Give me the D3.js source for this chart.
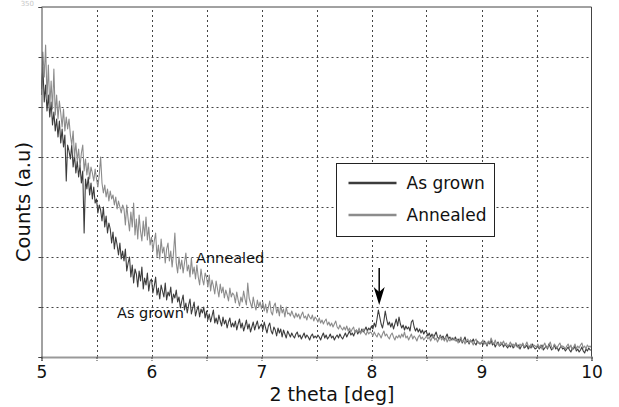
<!DOCTYPE html>
<html>
<head>
<meta charset="utf-8">
<script src="https://cdn.jsdelivr.net/npm/d3@7"></script>
<style>
  body { margin: 0; background: #fff; }
  text { font-family: "DejaVu Sans", sans-serif; }
</style>
</head>
<body>
<div id="chart"></div>
<script>
// 2 theta grid: 5.0000 .. 10.0000, step 0.0125
const thetaStart = 5;
const thetaStep = 0.0125;

// counts (a.u), 20 points per 0.25 deg
const asGrown = [
  268, 290, 255, 272, 246, 262, 240, 255, 232, 245, 226, 238, 220, 236, 214, 228, 210, 222, 176, 212,
  206, 198, 212, 190, 202, 184, 196, 180, 192, 174, 186, 124, 178, 168, 180, 162, 174, 158, 170, 154,
  158, 144, 152, 147, 136, 150, 130, 141, 124, 134, 128, 114, 125, 108, 120, 112, 102, 114, 98, 106,
  96, 108, 86, 94, 100, 80, 92, 74, 88, 83, 70, 86, 76, 90, 68, 79, 72, 84, 66, 76,
  78, 64, 71, 80, 62, 69, 58, 72, 66, 60, 74, 57, 65, 61, 70, 54, 63, 59, 67, 55,
  60, 49, 56, 62, 47, 54, 44, 52, 58, 43, 49, 55, 41, 47, 51, 40, 48, 44, 50, 39,
  46, 37, 43, 35, 41, 47, 34, 39, 33, 42, 36, 31, 40, 33, 37, 29, 35, 39, 30, 34,
  30, 36, 27, 33, 38, 29, 34, 26, 31, 37, 28, 33, 25, 30, 35, 27, 32, 36, 28, 31,
  33, 27, 35, 29, 24, 31, 34, 26, 23, 30, 27, 21, 29, 24, 28, 20, 27, 23, 19, 26,
  23, 20, 24, 21, 19, 23, 25, 20, 22, 18, 21, 24, 19, 22, 20, 17, 21, 23, 19, 21,
  19, 22, 20, 17, 21, 24, 19, 22, 18, 20, 23, 19, 21, 17, 20, 22, 19, 23, 20, 18,
  21, 24, 20, 23, 26, 22, 24, 21, 25, 27, 23, 26, 24, 28, 25, 27, 30, 26, 29, 27,
  31, 28, 34, 30, 38, 47, 40, 33, 29, 36, 46, 38, 32, 35, 30, 34, 28, 33, 38, 31,
  40, 33, 29, 32, 27, 31, 28, 30, 26, 35, 37, 30, 26, 29, 25, 28, 24, 27, 23, 26,
  25, 21, 24, 20, 23, 19, 22, 25, 20, 18, 22, 19, 21, 17, 20, 23, 18, 20, 17, 19,
  17, 20, 16, 18, 15, 19, 14, 17, 20, 15, 16, 13, 17, 15, 18, 14, 12, 16, 14, 13,
  15, 12, 16, 14, 11, 15, 13, 17, 12, 14, 10, 13, 15, 11, 12, 14, 10, 13, 11, 9,
  12, 10, 13, 9, 11, 14, 10, 12, 8, 11, 13, 9, 10, 12, 8, 11, 9, 13, 10, 8,
  9, 11, 8, 10, 12, 7, 9, 11, 8, 13, 10, 7, 9, 12, 8, 10, 6, 9, 11, 8,
  9, 6, 8, 10, 7, 5, 9, 8, 11, 6, 8, 5, 7, 10, 6, 4, 8, 6, 9, 7,
  7
];

const annealed = [
  262, 305, 280, 312, 258, 292, 250, 276, 248, 288, 242, 262, 238, 256, 244, 230, 248, 226, 240, 228,
  238, 222, 212, 226, 200, 214, 196, 208, 190, 204, 212, 186, 198, 182, 194, 178, 190, 184, 176, 188,
  178, 170, 182, 200, 174, 164, 172, 160, 168, 156, 166, 158, 162, 152, 160, 148, 156, 150, 144, 152,
  148, 132, 152, 138, 126, 145, 130, 154, 122, 138, 118, 142, 126, 116, 136, 121, 140, 117, 130, 112,
  120, 106, 116, 124, 100, 112, 98, 118, 104, 110, 94, 108, 114, 96, 106, 90, 104, 124, 94, 84,
  100, 88, 97, 84, 94, 104, 86, 92, 80, 99, 83, 90, 78, 92, 80, 72, 88, 78, 72, 84,
  80, 70, 82, 66, 77, 71, 63, 76, 68, 60, 73, 64, 70, 59, 67, 62, 56, 69, 60, 64,
  62, 54, 65, 57, 51, 60, 55, 66, 58, 52, 74, 59, 54, 49, 60, 52, 47, 57, 50, 55,
  48, 55, 46, 53, 44, 50, 56, 45, 42, 51, 54, 44, 49, 41, 52, 44, 48, 40, 50, 43,
  44, 41, 46, 42, 39, 44, 40, 43, 38, 42, 45, 39, 41, 37, 43, 40, 38, 42, 36, 40,
  38, 35, 39, 34, 37, 33, 36, 38, 32, 35, 31, 34, 30, 33, 36, 30, 28, 32, 29, 27,
  30, 27, 31, 26, 29, 25, 28, 30, 24, 27, 25, 29, 23, 26, 28, 24, 22, 26, 23, 25,
  24, 21, 25, 22, 20, 24, 22, 19, 23, 26, 21, 23, 20, 18, 22, 24, 20, 17, 21, 19,
  22, 19, 23, 20, 25, 19, 21, 17, 20, 23, 18, 21, 19, 16, 20, 22, 18, 20, 17, 19,
  21, 18, 20, 16, 19, 22, 17, 19, 15, 18, 21, 17, 19, 16, 20, 15, 18, 16, 19, 17,
  19, 16, 18, 14, 17, 20, 15, 17, 13, 16, 18, 14, 17, 15, 12, 16, 18, 14, 15, 13,
  14, 17, 13, 15, 12, 16, 14, 19, 15, 13, 17, 12, 14, 11, 15, 13, 16, 12, 14, 11,
  12, 15, 11, 13, 10, 14, 12, 9, 13, 11, 14, 10, 12, 15, 11, 9, 13, 10, 12, 11,
  10, 13, 9, 12, 8, 11, 14, 10, 9, 12, 15, 10, 8, 13, 11, 9, 12, 14, 10, 11,
  10, 8, 11, 13, 9, 12, 7, 10, 13, 8, 11, 9, 12, 14, 9, 11, 8, 12, 10, 11,
  9
];

const seriesNames = ['As grown', 'Annealed'];
const seriesColors = ['#3c3c3c', '#8c8c8c'];
const xTickLabels = ['5', '6', '7', '8', '9', '10'];

const width = 619;
const height = 407;
const margin = {top: 7, right: 27.5, bottom: 50, left: 41.5};

const series = [asGrown, annealed].map((vals, i) => ({
  id: seriesNames[i],
  values: vals.map((v, j) => ({theta: thetaStart + j * thetaStep, value: v}))
}));

const xScale = d3.scaleLinear()
  .domain([5, 10])
  .range([margin.left, width - margin.right]);

const yScale = d3.scaleLinear()
  .domain([0, 350])
  .range([height - margin.bottom, margin.top]);

const svg = d3.select('#chart')
  .append('svg')
  .attr('width', width)
  .attr('height', height);

svg.append('rect').attr('width', width).attr('height', height).attr('fill', '#fff');

// grid
const gridX = d3.range(5.5, 10, 0.5);
const gridY = d3.range(50, 350, 50);
svg.append('g')
  .selectAll('line')
  .data(gridX)
  .join('line')
  .attr('x1', d => Math.round(xScale(d)) + 0.5)
  .attr('x2', d => Math.round(xScale(d)) + 0.5)
  .attr('y1', yScale(0))
  .attr('y2', yScale(350))
  .attr('stroke', '#444')
  .attr('stroke-dasharray', '2,3');
svg.append('g')
  .selectAll('line')
  .data(gridY)
  .join('line')
  .attr('x1', xScale(5))
  .attr('x2', xScale(10))
  .attr('y1', d => Math.round(yScale(d)) + 0.5)
  .attr('y2', d => Math.round(yScale(d)) + 0.5)
  .attr('stroke', '#444')
  .attr('stroke-dasharray', '2,3');

// lines
const line = d3.line()
  .x(d => xScale(d.theta))
  .y(d => yScale(d.value));

svg.append('g')
  .selectAll('path')
  .data(series)
  .join('path')
  .attr('fill', 'none')
  .attr('stroke', (d, i) => seriesColors[i])
  .attr('stroke-width', 1.1)
  .attr('stroke-linejoin', 'round')
  .attr('d', d => line(d.values));

// frame
svg.append('line')
  .attr('x1', xScale(5)).attr('x2', xScale(10))
  .attr('y1', yScale(350)).attr('y2', yScale(350))
  .attr('stroke', '#444');
svg.append('line')
  .attr('x1', xScale(10)).attr('x2', xScale(10))
  .attr('y1', yScale(350)).attr('y2', yScale(0))
  .attr('stroke', '#444');

// x axis
const xAxis = svg.append('g')
  .attr('transform', `translate(0,${yScale(0)})`)
  .call(d3.axisBottom(xScale)
    .tickValues(d3.range(5, 10.01, 0.5))
    .tickSize(4)
    .tickFormat(d => Number.isInteger(d) ? xTickLabels[d - 5] : ''));
xAxis.select('.domain').attr('stroke', '#999').attr('stroke-width', 2);
xAxis.selectAll('.tick line').attr('stroke', '#444').attr('stroke-dasharray', '2,1');
xAxis.selectAll('.tick text')
  .attr('font-family', '"DejaVu Sans", sans-serif')
  .attr('font-size', 17)
  .attr('fill', '#111')
  .attr('dy', 0)
  .attr('y', 21);

xAxis.append('text')
  .attr('x', 332)
  .attr('y', 44)
  .attr('text-anchor', 'middle')
  .attr('fill', '#111')
  .attr('font-size', 19)
  .text('2 theta [deg]');

// y axis
const yAxis = svg.append('g')
  .attr('transform', `translate(${xScale(5)},0)`)
  .call(d3.axisLeft(yScale)
    .tickValues(d3.range(0, 351, 50))
    .tickSize(3)
    .tickFormat(''));
yAxis.select('.domain').attr('stroke', '#444');
yAxis.selectAll('.tick line').attr('stroke', '#444');

svg.append('text')
  .attr('x', 34)
  .attr('y', 6)
  .attr('text-anchor', 'end')
  .attr('font-size', 7)
  .attr('fill', '#c8c8c8')
  .text('350');

svg.append('text')
  .attr('transform', 'translate(30,202) rotate(-90)')
  .attr('text-anchor', 'middle')
  .attr('fill', '#111')
  .attr('font-size', 19.5)
  .text('Counts (a.u)');

// in-plot labels
svg.append('text')
  .attr('x', 196).attr('y', 263)
  .attr('font-size', 14.5).attr('fill', '#111')
  .text('Annealed');
svg.append('text')
  .attr('x', 117).attr('y', 318)
  .attr('font-size', 14.5).attr('fill', '#111')
  .text('As grown');

// arrow at the peak
const ax = xScale(8.07);
svg.append('line')
  .attr('x1', ax).attr('x2', ax)
  .attr('y1', yScale(89)).attr('y2', yScale(62))
  .attr('stroke', '#000').attr('stroke-width', 1.5);
svg.append('path')
  .attr('d', `M${ax - 5.5},${yScale(70)} L${ax},${yScale(52)} L${ax + 5.5},${yScale(70)} L${ax},${yScale(65)} Z`)
  .attr('fill', '#000');

// legend
const legend = svg.append('g').attr('transform', 'translate(336.5,163.5)');
legend.append('rect')
  .attr('width', 158).attr('height', 73)
  .attr('fill', '#fff').attr('stroke', '#222');
seriesNames.forEach((name, i) => {
  const yy = 19.5 + i * 32;
  legend.append('line')
    .attr('x1', 12).attr('x2', 60)
    .attr('y1', yy).attr('y2', yy)
    .attr('stroke', seriesColors[i]).attr('stroke-width', 2.5);
  legend.append('text')
    .attr('x', 70).attr('y', yy + 6)
    .attr('font-size', 17).attr('fill', '#111')
    .text(name);
});
</script>
</body>
</html>
